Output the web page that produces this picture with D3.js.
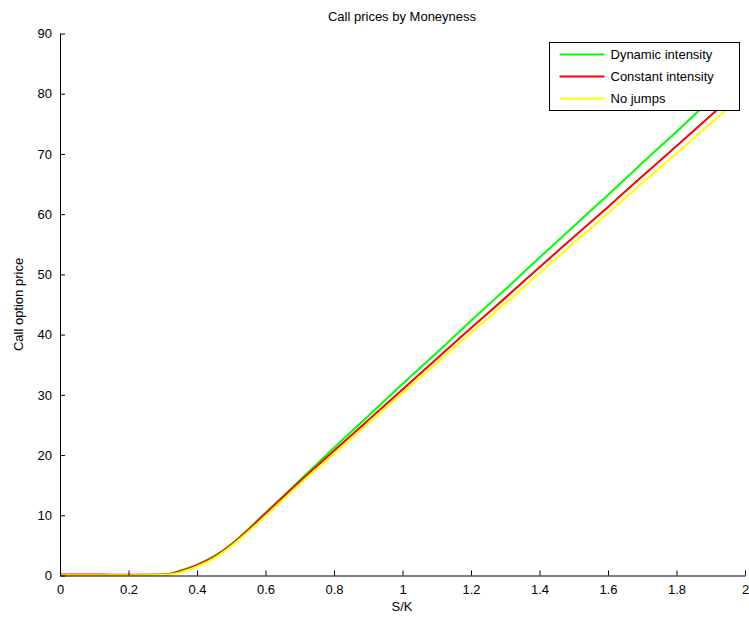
<!DOCTYPE html>
<html>
<head>
<meta charset="utf-8">
<script src="https://cdn.jsdelivr.net/npm/d3@7"></script>
<style>
  body { margin: 0; background: #fff; }
  svg { display: block; font-family: "Liberation Sans", Arial, sans-serif; }
</style>
</head>
<body>
<svg></svg>
<script>
// S/K grid
const moneyness = [0, 0.1, 0.2, 0.3, 0.325, 0.35, 0.375, 0.4, 0.45, 0.5, 0.55, 0.6, 0.65, 0.7, 0.8, 0.9, 1.0,
  1.1, 1.2, 1.3, 1.4, 1.5, 1.6, 1.7, 1.8, 1.9, 1.97];

const dynamicIntensity = [0.1, 0.1, 0.1, 0.15, 0.35, 0.8, 1.25, 1.8, 3.2, 5.2, 7.7, 10.4, 13.1, 15.8, 21.2, 26.5, 31.8,
  37.0, 42.3, 47.5, 52.8, 58.0, 63.2, 68.5, 73.7, 79.0, 82.6];
const constantIntensity = [0.15, 0.15, 0.12, 0.12, 0.3, 0.7, 1.15, 1.7, 3.1, 5.1, 7.6, 10.3, 12.95, 15.6, 20.7, 25.8, 30.9,
  36.0, 41.1, 46.1, 51.2, 56.2, 61.2, 66.3, 71.3, 76.4, 79.9];
const noJumps = [0.05, 0.05, 0.05, 0.08, 0.22, 0.5, 0.95, 1.5, 2.9, 4.9, 7.3, 9.9, 12.55, 15.2, 20.2, 25.3, 30.3,
  35.3, 40.3, 45.2, 50.2, 55.2, 60.2, 65.2, 70.1, 75.1, 78.6];

const seriesNames = ["Dynamic intensity", "Constant intensity", "No jumps"];
const seriesColors = ["#00ff00", "#ff0000", "#ffff00"];

const xTicks = [0, 0.2, 0.4, 0.6, 0.8, 1, 1.2, 1.4, 1.6, 1.8, 2];
const yTicks = [0, 10, 20, 30, 40, 50, 60, 70, 80, 90];

let width = 749;
let height = 618;
let margin = { left: 60, right: 4, top: 33.5, bottom: 42.5 };

let svg = d3.select("svg").attr("width", width).attr("height", height);

let xScale = d3.scaleLinear().domain([0, 2]).range([margin.left, width - margin.right]);
let yScale = d3.scaleLinear().domain([0, 90]).range([height - margin.bottom, margin.top]);

const allSeries = [dynamicIntensity, constantIntensity, noJumps];

// lines
const line = d3.line()
  .x((d, i) => xScale(moneyness[i]))
  .y((d) => yScale(d))
  .curve(d3.curveMonotoneX);

allSeries.forEach((vals, k) => {
  svg.append("path")
    .attr("d", line(vals))
    .attr("fill", "none")
    .attr("stroke", seriesColors[k])
    .attr("stroke-width", 2);
});

// axes (MATLAB style, ticks inward, box off)
const xAxis = d3.axisBottom(xScale).tickValues(xTicks).tickSizeInner(-5).tickSizeOuter(0)
  .tickPadding(9).tickFormat(d3.format("~g"));
const yAxis = d3.axisLeft(yScale).tickValues(yTicks).tickSizeInner(-5).tickSizeOuter(0)
  .tickPadding(8);

const gx = svg.append("g")
  .attr("transform", `translate(0, ${height - margin.bottom})`)
  .call(xAxis);
const gy = svg.append("g")
  .attr("transform", `translate(${margin.left}, 0)`)
  .call(yAxis);

[gx, gy].forEach((g) => {
  g.selectAll("text").attr("font-size", 13).attr("fill", "#000")
    .attr("font-family", "Liberation Sans, Arial, sans-serif");
  g.selectAll("line, path").attr("stroke", "#000");
});

// title and labels
svg.append("text")
  .attr("x", 402).attr("y", 21)
  .attr("text-anchor", "middle").attr("font-size", 13)
  .text("Call prices by Moneyness");

svg.append("text")
  .attr("x", 402).attr("y", 611)
  .attr("text-anchor", "middle").attr("font-size", 13)
  .text("S/K");

svg.append("text")
  .attr("transform", `translate(23, ${yScale(45)}) rotate(-90)`)
  .attr("text-anchor", "middle").attr("font-size", 13)
  .text("Call option price");

// legend
const legend = svg.append("g").attr("transform", "translate(549.5, 42.5)");
legend.append("rect")
  .attr("width", 190).attr("height", 68)
  .attr("fill", "#fff").attr("stroke", "#000");

seriesNames.forEach((name, i) => {
  const y = 12 + i * 22;
  legend.append("line")
    .attr("x1", 10).attr("x2", 55)
    .attr("y1", y).attr("y2", y)
    .attr("stroke", seriesColors[i]).attr("stroke-width", 2);
  legend.append("text")
    .attr("x", 61).attr("y", y + 4.5)
    .attr("font-size", 13)
    .text(name);
});
</script>
</body>
</html>
